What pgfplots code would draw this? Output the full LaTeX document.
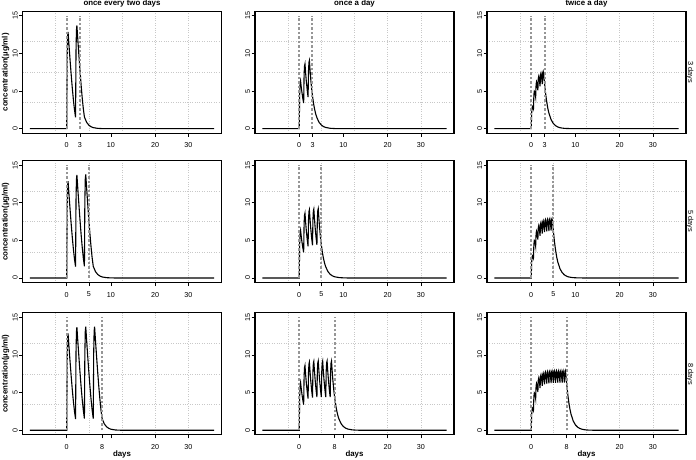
\documentclass[border=0pt]{standalone}
\usepackage{pgfplots}
\pgfplotsset{compat=1.18}
\usepackage{fontspec}
\setmainfont{Liberation Sans}
\definecolor{dashgray}{RGB}{150,150,150}
\definecolor{gridgray}{RGB}{200,200,200}
\newcommand{\tfont}{\fontsize{7.2}{8}\selectfont}
\newcommand{\bfont}{\bfseries\fontsize{7.9}{9}\selectfont}
\newcommand{\rfont}{\fontsize{7.4}{8}\selectfont}
\pgfplotsset{
 panel/.style={
  width=199bp, height=122bp, scale only axis, anchor=north west,
  xmin=-10, xmax=35, ymin=-0.6, ymax=15.6,
  axis line style={black, line width=1.1bp},
  tick align=outside, major tick length=3.5bp,
  major tick style={black, line width=0.6bp},
  minor tick length=0pt,
  xtick pos=bottom, ytick pos=left,
  minor xtick={-2.5,5,12.5,20,27.5},
  minor ytick={3.45,7.5,11.55},
  xminorgrids=true, yminorgrids=true,
  minor grid style={gridgray, dotted, line width=0.6bp},
  ytick={0,5,10,15}, yticklabels={0,5,10,15},
  yticklabel style={rotate=90, anchor=south, inner sep=1bp, font=\tfont},
  xticklabel style={font=\tfont, yshift=-2.5bp},
  clip mode=individual,
 },
 curve/.style={black, line width=1.1bp, no markers},
 dose/.style={dashgray, line width=2bp, dash pattern=on 2.5bp off 2bp, no markers},
}
\begin{document}
\begin{tikzpicture}[x=1bp,y=1bp]
\path[use as bounding box] (0,0) rectangle (696,-460);

% ---------------- row 1 : 3 days ----------------
\begin{axis}[panel, at={(22.5bp,-11.2bp)}, xtick={0,3,10,20,27.5}, xticklabels={0,3,10,20,30}]
\addplot[curve] coordinates {(-8.33,0)(0,0)(0.1,9.25)(0.2,12.21)(0.3,12.85)(0.5,11.18)(0.75,9.16)(1,7.25)(1.25,5.46)(1.5,3.88)(1.75,2.54)
(2,1.5)(2.1,10.28)(2.2,13.09)(2.3,13.7)(2.5,11.92)(2.75,9.77)(3,7.72)(3.25,5.82)(3.5,4.11)(3.75,2.67)
(4,1.55)(4.5,0.85)(5,0.47)(5.5,0.26)(6,0.14)(7,0.042)(8,0.013)(9,0)(33.33,0)};
\addplot[dose] coordinates {(0,0)(0,15)};
\addplot[dose] coordinates {(3,0)(3,15)};
\end{axis}

\begin{axis}[panel, at={(255bp,-11.2bp)}, xtick={0,3,10,20,27.5}, xticklabels={0,3,10,20,30}]
\addplot[curve] coordinates {(-8.33,0)(0,0)(0.1,4.57)(0.2,6.03)(0.3,6.35)(0.45,5.56)(0.6,4.86)(0.8,4.07)
(1,3.4)(1.1,7.14)(1.2,8.34)(1.3,8.6)(1.45,7.38)(1.6,6.32)(1.8,5.16)
(2,4.2)(2.1,7.69)(2.2,8.81)(2.3,9.05)(2.45,7.74)(2.6,6.61)(2.8,5.36)
(3,4.35)(3.25,3.30)(3.5,2.51)(3.75,1.91)(4,1.45)(4.5,0.835)(5,0.483)(5.5,0.278)(6,0.161)(7,0.052)(8,0.017)(9,0)(33.33,0)};
\addplot[dose] coordinates {(0,0)(0,15)};
\addplot[dose] coordinates {(3,0)(3,15)};
\end{axis}

\begin{axis}[panel, at={(487bp,-11.2bp)}, xtick={0,3,10,20,27.5}, xticklabels={0,3,10,20,30}]
\addplot[curve] coordinates {(-8.33,0)(0,0)(0.1,2.10)(0.2,2.82)(0.3,2.95)
(0.5,2.63)(0.6,4.49)(0.7,4.98)(0.8,4.89)
(1,4.19)(1.1,5.89)(1.2,6.23)(1.3,6.02)
(1.5,5.09)(1.6,6.70)(1.7,6.96)(1.8,6.66)
(2,5.61)(2.1,7.16)(2.2,7.38)(2.3,7.04)
(2.5,5.91)(2.6,7.43)(2.7,7.61)(2.8,7.25)
(3,6.09)(3.25,4.66)(3.5,3.56)(3.75,2.70)(4,2.05)(4.5,1.19)(5,0.68)(5.5,0.40)(6,0.23)(6.5,0.13)(7,0.077)(7.5,0.043)(8,0.025)(9,0.009)(10,0)(33.33,0)};
\addplot[dose] coordinates {(0,0)(0,15)};
\addplot[dose] coordinates {(3,0)(3,15)};
\end{axis}

% ---------------- row 2 : 5 days ----------------
\begin{axis}[panel, at={(22.5bp,-160.5bp)}, xtick={0,5,10,20,27.5}, xticklabels={0,5,10,20,30}]
\addplot[curve] coordinates {(-8.33,0)(0,0)(0.1,9.25)(0.2,12.21)(0.3,12.85)(0.5,11.18)(0.75,9.16)(1,7.25)(1.25,5.46)(1.5,3.88)(1.75,2.54)
(2,1.5)(2.1,10.28)(2.2,13.09)(2.3,13.7)(2.5,11.92)(2.75,9.77)(3,7.72)(3.25,5.82)(3.5,4.11)(3.75,2.67)
(4,1.55)(4.1,10.32)(4.2,13.14)(4.3,13.75)(4.5,11.96)(4.75,9.8)(5,7.75)(5.25,5.85)(5.5,4.13)(5.75,2.68)
(6,1.55)(6.5,0.85)(7,0.47)(7.5,0.26)(8,0.14)(9,0.042)(10,0.013)(11,0)(33.33,0)};
\addplot[dose] coordinates {(0,0)(0,15)};
\addplot[dose] coordinates {(5,0)(5,15)};
\end{axis}

\begin{axis}[panel, at={(255bp,-160.5bp)}, xtick={0,5,10,20,27.5}, xticklabels={0,5,10,20,30}]
\addplot[curve] coordinates {(-8.33,0)(0,0)(0.1,4.57)(0.2,6.03)(0.3,6.35)(0.45,5.56)(0.6,4.86)(0.8,4.07)
(1,3.4)(1.1,7.14)(1.2,8.34)(1.3,8.6)(1.45,7.38)(1.6,6.32)(1.8,5.16)
(2,4.2)(2.1,7.69)(2.2,8.81)(2.3,9.05)(2.45,7.74)(2.6,6.61)(2.8,5.36)
(3,4.35)(3.1,7.81)(3.2,8.91)(3.3,9.15)(3.45,7.82)(3.6,6.68)(3.8,5.42)
(4,4.4)(4.1,7.86)(4.2,8.96)(4.3,9.2)(4.45,7.86)(4.6,6.71)(4.8,5.43)
(5,4.4)(5.25,3.34)(5.5,2.54)(5.75,1.93)(6,1.47)(6.5,0.845)(7,0.488)(7.5,0.282)(8,0.163)(9,0.053)(10,0.018)(11,0)(33.33,0)};
\addplot[dose] coordinates {(0,0)(0,15)};
\addplot[dose] coordinates {(5,0)(5,15)};
\end{axis}

\begin{axis}[panel, at={(487bp,-160.5bp)}, xtick={0,5,10,20,27.5}, xticklabels={0,5,10,20,30}]
\addplot[curve] coordinates {(-8.33,0)(0,0)(0.1,2.10)(0.2,2.82)(0.3,2.95)
(0.5,2.63)(0.6,4.49)(0.7,4.98)(0.8,4.89)
(1,4.19)(1.1,5.89)(1.2,6.23)(1.3,6.02)
(1.5,5.09)(1.6,6.70)(1.7,6.96)(1.8,6.66)
(2,5.61)(2.1,7.16)(2.2,7.38)(2.3,7.04)
(2.5,5.91)(2.6,7.43)(2.7,7.61)(2.8,7.25)
(3,6.09)(3.1,7.59)(3.2,7.75)(3.3,7.38)
(3.5,6.19)(3.6,7.68)(3.7,7.83)(3.8,7.45)
(4,6.24)(4.1,7.73)(4.2,7.88)(4.3,7.49)
(4.5,6.28)(4.6,7.76)(4.7,7.91)(4.8,7.52)
(5,6.30)(5.25,4.83)(5.5,3.70)(5.75,2.81)(6,2.13)(6.5,1.23)(7,0.71)(7.5,0.41)(8,0.236)(8.5,0.136)(9,0.080)(9.5,0.044)(10,0.027)(11,0.009)(12,0)(33.33,0)};
\addplot[dose] coordinates {(0,0)(0,15)};
\addplot[dose] coordinates {(5,0)(5,15)};
\end{axis}

% ---------------- row 3 : 8 days ----------------
\begin{axis}[panel, at={(22.5bp,-312.8bp)}, xtick={0,8,10,20,27.5}, xticklabels={0,8,,20,30}]
\addplot[curve] coordinates {(-8.33,0)(0,0)(0.1,9.25)(0.2,12.21)(0.3,12.85)(0.5,11.18)(0.75,9.16)(1,7.25)(1.25,5.46)(1.5,3.88)(1.75,2.54)
(2,1.5)(2.1,10.28)(2.2,13.09)(2.3,13.7)(2.5,11.92)(2.75,9.77)(3,7.72)(3.25,5.82)(3.5,4.11)(3.75,2.67)
(4,1.55)(4.1,10.32)(4.2,13.14)(4.3,13.75)(4.5,11.96)(4.75,9.8)(5,7.75)(5.25,5.85)(5.5,4.13)(5.75,2.68)
(6,1.55)(6.1,10.32)(6.2,13.14)(6.3,13.75)(6.5,11.96)(6.75,9.8)(7,7.75)(7.25,5.85)(7.5,4.13)(7.75,2.68)
(8,1.55)(8.5,0.85)(9,0.47)(9.5,0.26)(10,0.14)(11,0.042)(12,0.013)(13,0)(33.33,0)};
\addplot[dose] coordinates {(0,0)(0,15)};
\addplot[dose] coordinates {(8,0)(8,15)};
\end{axis}

\begin{axis}[panel, at={(255bp,-312.8bp)}, xtick={0,8,10,20,27.5}, xticklabels={0,8,,20,30}]
\addplot[curve] coordinates {(-8.33,0)(0,0)(0.1,4.57)(0.2,6.03)(0.3,6.35)(0.45,5.56)(0.6,4.86)(0.8,4.07)
(1,3.4)(1.1,7.14)(1.2,8.34)(1.3,8.6)(1.45,7.38)(1.6,6.32)(1.8,5.16)
(2,4.2)(2.1,7.69)(2.2,8.81)(2.3,9.05)(2.45,7.74)(2.6,6.61)(2.8,5.36)
(3,4.35)(3.1,7.81)(3.2,8.91)(3.3,9.15)(3.45,7.82)(3.6,6.68)(3.8,5.42)
(4,4.4)(4.1,7.86)(4.2,8.96)(4.3,9.2)(4.45,7.86)(4.6,6.71)(4.8,5.43)
(5,4.4)(5.1,7.86)(5.2,8.96)(5.3,9.2)(5.45,7.86)(5.6,6.71)(5.8,5.43)
(6,4.4)(6.1,7.86)(6.2,8.96)(6.3,9.2)(6.45,7.86)(6.6,6.71)(6.8,5.43)
(7,4.4)(7.1,7.86)(7.2,8.96)(7.3,9.2)(7.45,7.86)(7.6,6.71)(7.8,5.43)
(8,4.4)(8.25,3.34)(8.5,2.54)(8.75,1.93)(9,1.47)(9.5,0.845)(10,0.488)(10.5,0.282)(11,0.163)(12,0.053)(13,0.018)(14,0)(33.33,0)};
\addplot[dose] coordinates {(0,0)(0,15)};
\addplot[dose] coordinates {(8,0)(8,15)};
\end{axis}

\begin{axis}[panel, at={(487bp,-312.8bp)}, xtick={0,8,10,20,27.5}, xticklabels={0,8,,20,30}]
\addplot[curve] coordinates {(-8.33,0)(0,0)(0.1,2.10)(0.2,2.82)(0.3,2.95)
(0.5,2.63)(0.6,4.49)(0.7,4.98)(0.8,4.89)
(1,4.19)(1.1,5.89)(1.2,6.23)(1.3,6.02)
(1.5,5.09)(1.6,6.70)(1.7,6.96)(1.8,6.66)
(2,5.61)(2.1,7.16)(2.2,7.38)(2.3,7.04)
(2.5,5.91)(2.6,7.43)(2.7,7.61)(2.8,7.25)
(3,6.09)(3.1,7.59)(3.2,7.75)(3.3,7.38)
(3.5,6.19)(3.6,7.68)(3.7,7.83)(3.8,7.45)
(4,6.24)(4.1,7.73)(4.2,7.88)(4.3,7.49)
(4.5,6.28)(4.6,7.76)(4.7,7.91)(4.8,7.52)
(5,6.30)(5.1,7.78)(5.2,7.92)(5.3,7.53)
(5.5,6.31)(5.6,7.79)(5.7,7.93)(5.8,7.54)
(6,6.32)(6.1,7.79)(6.2,7.94)(6.3,7.55)
(6.5,6.32)(6.6,7.79)(6.7,7.94)(6.8,7.55)
(7,6.32)(7.1,7.79)(7.2,7.94)(7.3,7.55)
(7.5,6.32)(7.6,7.79)(7.7,7.94)(7.8,7.55)
(8,6.32)(8.25,4.84)(8.5,3.70)(8.75,2.81)(9,2.13)(9.5,1.23)(10,0.71)(10.5,0.41)(11,0.236)(11.5,0.136)(12,0.080)(12.5,0.044)(13,0.027)(14,0.009)(15,0)(33.33,0)};
\addplot[dose] coordinates {(0,0)(0,15)};
\addplot[dose] coordinates {(8,0)(8,15)};
\end{axis}

% ---------------- texts ----------------
\node[font=\bfont, anchor=base] at (122,-6) {once every two days};
\node[font=\bfont, anchor=base] at (354.5,-6) {once a day};
\node[font=\bfont, anchor=base] at (586.5,-6) {twice a day};
\node[font=\bfont, rotate=90] at (5.5,-72.2) {concentration(µg/ml)};
\node[font=\bfont, rotate=90] at (5.5,-221.5) {concentration(µg/ml)};
\node[font=\bfont, rotate=90] at (5.5,-374) {concentration(µg/ml)};
\node[font=\rfont, rotate=-90] at (690,-72.2) {3 days};
\node[font=\rfont, rotate=-90] at (690,-221.5) {5 days};
\node[font=\rfont, rotate=-90] at (690,-374) {8 days};
\node[font=\bfont, anchor=base] at (122,-456.5) {days};
\node[font=\bfont, anchor=base] at (354.5,-456.5) {days};
\node[font=\bfont, anchor=base] at (586.5,-456.5) {days};
\end{tikzpicture}
\end{document}
